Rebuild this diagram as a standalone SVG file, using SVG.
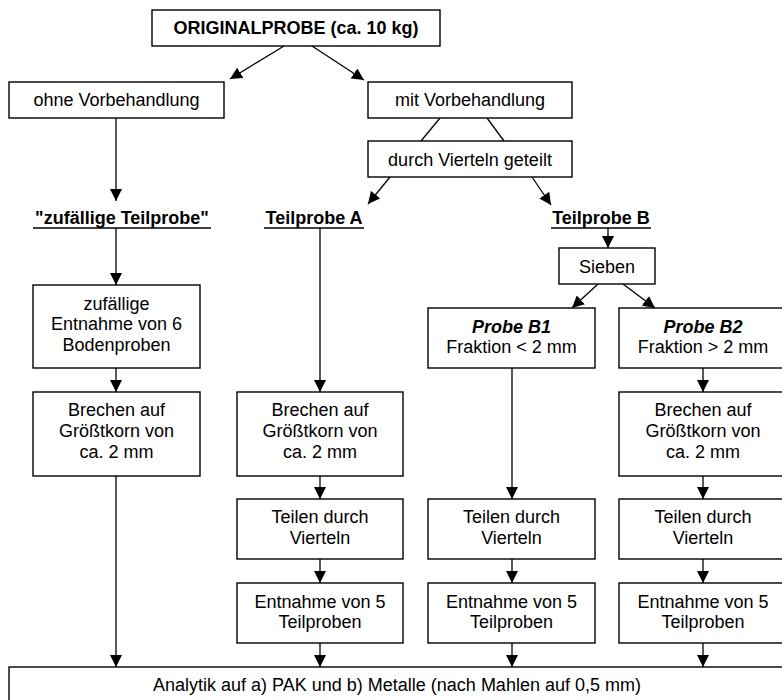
<svg xmlns="http://www.w3.org/2000/svg" width="782" height="700" viewBox="0 0 782 700">
<defs>
<marker id="ah" viewBox="0 0 12 12" refX="12" refY="6" markerWidth="12" markerHeight="12" markerUnits="userSpaceOnUse" orient="auto">
<path d="M0,0 L12,6 L0,12 Z" fill="#000"/>
</marker>
</defs>
<style>
rect{fill:#fff;stroke:#000;stroke-width:1.4}
text{font-family:"Liberation Sans",Arial,sans-serif;font-size:18px;fill:#000;text-anchor:middle}
.b{font-weight:bold}
.bi{font-weight:bold;font-style:italic}
#conn line{stroke:#000;stroke-width:1.3}
.ul{stroke:#000;stroke-width:1.6}
</style>
<rect x="0" y="0" width="782" height="700" style="fill:#fff;stroke:none"/>

<g id="conn">
<line x1="284" y1="46" x2="230" y2="79" marker-end="url(#ah)"/>
<line x1="312" y1="46" x2="364" y2="80" marker-end="url(#ah)"/>
<line x1="116" y1="118" x2="116" y2="201" marker-end="url(#ah)"/>
<line x1="440" y1="118" x2="421" y2="141"/>
<line x1="487" y1="118" x2="504" y2="141"/>
<line x1="390" y1="177" x2="368" y2="204" marker-end="url(#ah)"/>
<line x1="532" y1="177" x2="551" y2="205" marker-end="url(#ah)"/>
<line x1="116" y1="228" x2="116" y2="285" marker-end="url(#ah)"/>
<line x1="320" y1="228" x2="320" y2="392" marker-end="url(#ah)"/>
<line x1="608" y1="228" x2="608" y2="248" marker-end="url(#ah)"/>
<line x1="598" y1="284" x2="572" y2="308" marker-end="url(#ah)"/>
<line x1="623" y1="284" x2="655" y2="308" marker-end="url(#ah)"/>
<line x1="116" y1="368" x2="116" y2="392" marker-end="url(#ah)"/>
<line x1="116" y1="476" x2="116" y2="667" marker-end="url(#ah)"/>
<line x1="512" y1="368" x2="512" y2="499" marker-end="url(#ah)"/>
<line x1="703" y1="368" x2="703" y2="392" marker-end="url(#ah)"/>
<line x1="320" y1="476" x2="320" y2="499" marker-end="url(#ah)"/>
<line x1="703" y1="476" x2="703" y2="499" marker-end="url(#ah)"/>
<line x1="320" y1="559" x2="320" y2="583" marker-end="url(#ah)"/>
<line x1="512" y1="559" x2="512" y2="583" marker-end="url(#ah)"/>
<line x1="703" y1="559" x2="703" y2="583" marker-end="url(#ah)"/>
<line x1="320" y1="643" x2="320" y2="667" marker-end="url(#ah)"/>
<line x1="512" y1="643" x2="512" y2="667" marker-end="url(#ah)"/>
<line x1="703" y1="643" x2="703" y2="667" marker-end="url(#ah)"/>
</g>

<g id="original"><rect x="152" y="10" width="288" height="36"/><text class="b" x="296" y="34">ORIGINALPROBE (ca. 10 kg)</text></g>
<g id="ohne"><rect x="9" y="82" width="215" height="36"/><text x="116.5" y="106">ohne Vorbehandlung</text></g>
<g id="mit"><rect x="368" y="82" width="204" height="36"/><text x="470" y="106">mit Vorbehandlung</text></g>
<g id="vierteln"><rect x="368" y="141" width="204" height="36"/><text x="470" y="166">durch Vierteln geteilt</text></g>

<g id="zufTeil"><text class="b" x="122" y="224">"zufällige Teilprobe"</text><line class="ul" x1="33" y1="228" x2="211" y2="228"/></g>
<g id="teilA"><text class="b" x="314" y="224">Teilprobe A</text><line class="ul" x1="264" y1="228" x2="364" y2="228"/></g>
<g id="teilB"><text class="b" x="601" y="224">Teilprobe B</text><line class="ul" x1="551" y1="228" x2="651" y2="228"/></g>

<g id="sieben"><rect x="559" y="248" width="96" height="36"/><text x="607" y="273">Sieben</text></g>

<g id="zufEnt"><rect x="33" y="285" width="167" height="83"/><text x="116.5" y="310">zufällige</text><text x="116.5" y="330">Entnahme von 6</text><text x="116.5" y="351">Bodenproben</text></g>
<g id="b1"><rect x="428" y="308" width="167" height="60"/><text class="bi" x="511.5" y="333">Probe B1</text><text x="511.5" y="353">Fraktion &lt; 2 mm</text></g>
<g id="b2"><rect x="619" y="308" width="168" height="60"/><text class="bi" x="703" y="333">Probe B2</text><text x="703" y="353">Fraktion &gt; 2 mm</text></g>

<g id="brechen0"><rect x="33" y="392" width="167" height="84"/><text x="116.5" y="416">Brechen auf</text><text x="116.5" y="437">Größtkorn von</text><text x="116.5" y="458">ca. 2 mm</text></g>
<g id="brechenA"><rect x="237" y="392" width="166" height="84"/><text x="320" y="416">Brechen auf</text><text x="320" y="437">Größtkorn von</text><text x="320" y="458">ca. 2 mm</text></g>
<g id="brechenB2"><rect x="619" y="392" width="168" height="84"/><text x="703" y="416">Brechen auf</text><text x="703" y="437">Größtkorn von</text><text x="703" y="458">ca. 2 mm</text></g>

<g id="teilenA"><rect x="237" y="499" width="166" height="60"/><text x="320" y="523">Teilen durch</text><text x="320" y="544">Vierteln</text></g>
<g id="teilenB1"><rect x="428" y="499" width="167" height="60"/><text x="511.5" y="523">Teilen durch</text><text x="511.5" y="544">Vierteln</text></g>
<g id="teilenB2"><rect x="619" y="499" width="168" height="60"/><text x="703" y="523">Teilen durch</text><text x="703" y="544">Vierteln</text></g>

<g id="entA"><rect x="237" y="583" width="166" height="60"/><text x="320" y="608">Entnahme von 5</text><text x="320" y="628">Teilproben</text></g>
<g id="entB1"><rect x="428" y="583" width="167" height="60"/><text x="511.5" y="608">Entnahme von 5</text><text x="511.5" y="628">Teilproben</text></g>
<g id="entB2"><rect x="619" y="583" width="168" height="60"/><text x="703" y="608">Entnahme von 5</text><text x="703" y="628">Teilproben</text></g>

<g id="analytik"><rect x="9" y="667" width="780" height="40"/><text x="397" y="691">Analytik auf a) PAK und b) Metalle (nach Mahlen auf 0,5 mm)</text></g>
</svg>
